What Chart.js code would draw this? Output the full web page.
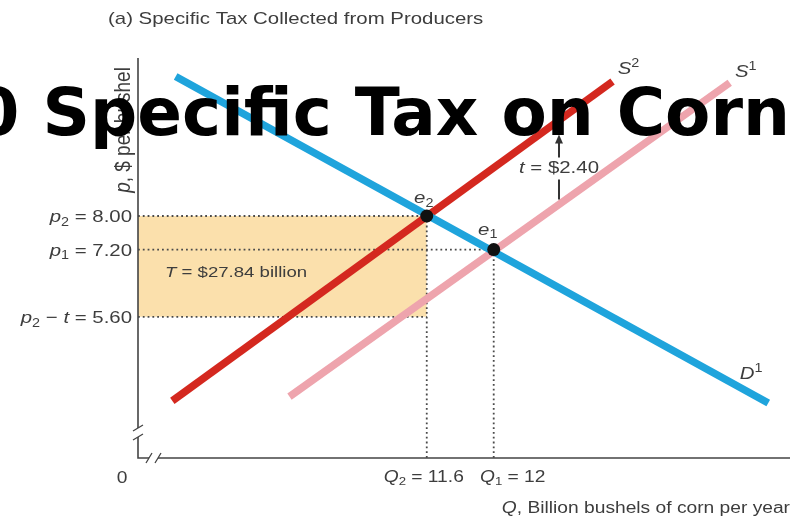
<!DOCTYPE html>
<html>
<head>
<meta charset="utf-8">
<script src="https://cdn.jsdelivr.net/npm/chart.js@4.4.1/dist/chart.umd.min.js"></script>
<style>
html,body{margin:0;padding:0;background:#fff;}
#wrap{width:804px;height:520px;position:relative;}
</style>
</head>
<body>
<div id="wrap"><canvas id="c"></canvas></div>
<script>
// values: Q in billion bushels, p in $ per bushel
const demandQ = [10.1, 13.64];
const demandP = [11.32, 3.55];
const supply1Q = [10.78, 13.41];
const supply1P = [3.7, 11.17];
const supply2Q = [10.08, 12.71];
const supply2P = [3.6, 11.2];
const eqQ = [11.6, 12];
const eqP = [8.00, 7.20];
const eqLabels = ['*e*_2', '*e*_1'];
const priceTicks = [8.00, 7.20, 5.60];
const priceTickLabels = ['*p*_2 = 8.00', '*p*_1 = 7.20', '*p*_2 − *t* = 5.60'];
const qTicks = [11.6, 12];
const qTickLabels = ['*Q*_2 = 11.6', '*Q*_1 = 12'];
const taxLabel = '*t* = $2.40';
const revenueLabel = '*T* = $27.84 billion';

// axis window (both axes are broken, so they do not start at 0)
const Q_MIN = 9.875, Q_MAX = 13.77;
const P_MIN = 2.24, P_MAX = 11.76;

const TEXT = '#3d3d3d';
const FONT = '"Liberation Sans", Arial, sans-serif';
const SX = 1.2; // the source artwork is stretched sideways

// tiny markup: *italic*, _x subscript, ^x superscript
function parseRich(s){
  const segs = []; let it = false, i = 0;
  while(i < s.length){
    const ch = s[i];
    if(ch === '*'){ it = !it; i++; continue; }
    if(ch === '_' || ch === '^'){ segs.push({t:s[i+1], it:false, mode: ch==='_' ? 'sub' : 'sup'}); i += 2; continue; }
    const last = segs[segs.length-1];
    if(last && last.mode === 'n' && last.it === it) last.t += ch;
    else segs.push({t:ch, it, mode:'n'});
    i++;
  }
  return segs;
}
function drawRich(ctx, str, x, y, size, align, rotate){
  const segs = parseRich(str);
  ctx.save();
  ctx.translate(x, y);
  ctx.scale(SX, 1);
  if(rotate) ctx.rotate(-Math.PI/2);
  ctx.fillStyle = TEXT;
  ctx.textBaseline = 'alphabetic';
  ctx.textAlign = 'left';
  const fontOf = s => (s.it ? 'italic ' : '') + (s.mode === 'n' ? size : Math.round(size*0.68)) + 'px ' + FONT;
  let w = 0;
  segs.forEach(s => { ctx.font = fontOf(s); s.w = ctx.measureText(s.t).width; w += s.w; });
  let cx = align === 'right' ? -w : align === 'center' ? -w/2 : 0;
  const base = size*0.36;
  segs.forEach(s => {
    ctx.font = fontOf(s);
    const dy = s.mode === 'sub' ? size*0.22 : s.mode === 'sup' ? -size*0.42 : 0;
    ctx.fillText(s.t, cx, base + dy);
    cx += s.w;
  });
  ctx.restore();
}
function pts(qs, ps){ return qs.map((q, i) => ({x:q, y:ps[i]})); }
function lineAt(qs, ps, q){ return ps[0] + (ps[1]-ps[0]) * (q-qs[0]) / (qs[1]-qs[0]); }

function dotted(data){
  return { data, borderColor:'#4a4a4a', borderWidth:1.8, borderDash:[1.8,3], pointRadius:0, fill:false };
}

const eqLabelOffset = [[-3,-19],[-6,-21]];
const qLabelShift = [-3, 19];

const figurePlugin = {
  id:'figure',
  afterDraw(chart){
    const {ctx, chartArea:a, scales:{x, y}} = chart;
    ctx.save();
    // axes with break marks
    ctx.strokeStyle = '#444'; ctx.lineWidth = 1.6;
    ctx.beginPath();
    ctx.moveTo(a.left, a.top); ctx.lineTo(a.left, a.bottom-30);
    ctx.moveTo(a.left, a.bottom-21); ctx.lineTo(a.left, a.bottom); ctx.lineTo(a.left+11, a.bottom);
    ctx.moveTo(a.left+20, a.bottom); ctx.lineTo(a.right, a.bottom);
    ctx.stroke();
    ctx.lineWidth = 1.3;
    ctx.beginPath();
    [-30,-21].forEach(d => { ctx.moveTo(a.left-5, a.bottom+d+3); ctx.lineTo(a.left+5, a.bottom+d-3); });
    [11,20].forEach(d => { ctx.moveTo(a.left+d-3, a.bottom+5); ctx.lineTo(a.left+d+3, a.bottom-5); });
    ctx.stroke();
    ctx.restore();

    // price ticks
    priceTicks.forEach((v, i) => drawRich(ctx, priceTickLabels[i], a.left-6, y.getPixelForValue(v), 17, 'right'));
    // quantity ticks
    qTicks.forEach((v, i) => drawRich(ctx, qTickLabels[i], x.getPixelForValue(v)+qLabelShift[i], a.bottom+18, 16, 'center'));
    drawRich(ctx, '0', a.left-16, a.bottom+19, 16, 'center');
    // axis titles
    drawRich(ctx, '*Q*, Billion bushels of corn per year', a.right, a.bottom+49, 16, 'right');
    drawRich(ctx, '*p*, $ per bushel', a.left-16, 130, 19, 'center', true);
    // panel caption
    drawRich(ctx, '(a) Specific Tax Collected from Producers', 108, 18, 17, 'left');

    // equilibrium labels
    eqQ.forEach((q, i) => drawRich(ctx, eqLabels[i], x.getPixelForValue(q)+eqLabelOffset[i][0], y.getPixelForValue(eqP[i])+eqLabelOffset[i][1], 17, 'center'));
    // curve labels
    drawRich(ctx, '*S*^2', x.getPixelForValue(supply2Q[1])+16, y.getPixelForValue(supply2P[1])-14, 17, 'center');
    drawRich(ctx, '*S*^1', x.getPixelForValue(supply1Q[1])+16, y.getPixelForValue(supply1P[1])-12, 17, 'center');
    drawRich(ctx, '*D*^1', x.getPixelForValue(demandQ[1])-17, y.getPixelForValue(demandP[1])-30, 17, 'center');

    // tax revenue label inside the box
    drawRich(ctx, revenueLabel, a.left+27, y.getPixelForValue(eqP[1])+22, 15.5, 'left');

    // tax wedge between S1 and S2
    const qt = 12.39;
    const xt = x.getPixelForValue(qt);
    const yS2 = y.getPixelForValue(lineAt(supply2Q, supply2P, qt));
    const yS1 = y.getPixelForValue(lineAt(supply1Q, supply1P, qt));
    const yt = yS1 - 38;
    drawRich(ctx, taxLabel, xt, yt, 17, 'center');
    ctx.save();
    ctx.strokeStyle = '#333'; ctx.fillStyle = '#333'; ctx.lineWidth = 2;
    ctx.beginPath();
    ctx.moveTo(xt, yt-9); ctx.lineTo(xt, yS2+20);
    ctx.moveTo(xt, yt+13); ctx.lineTo(xt, yS1-5);
    ctx.stroke();
    ctx.beginPath();
    ctx.moveTo(xt, yS2+14); ctx.lineTo(xt-4, yS2+23); ctx.lineTo(xt+4, yS2+23); ctx.closePath();
    ctx.fill();
    ctx.restore();

    // big overlay title (runs off the left edge, as in the reference)
    ctx.save();
    ctx.font = 'bold 66px "DejaVu Sans", Verdana, sans-serif';
    ctx.fillStyle = '#000';
    ctx.textAlign = 'right';
    ctx.textBaseline = 'alphabetic';
    ctx.fillText('$2.40 Specific Tax on Corn', 790, 135);
    ctx.restore();
  }
};

new Chart(document.getElementById('c'), {
  type:'line',
  data:{
    datasets:[
      { data: pts(eqQ, eqP), showLine:false, pointRadius:6.5, pointBackgroundColor:'#111', pointBorderColor:'#111', pointBorderWidth:0 },
      { data: pts(demandQ, demandP), borderColor:'#1fa4dc', borderWidth:7.5, pointRadius:0 },
      { data: pts(supply2Q, supply2P), borderColor:'#d4281f', borderWidth:7.5, pointRadius:0 },
      { data: pts(supply1Q, supply1P), borderColor:'#eea4ad', borderWidth:7.5, pointRadius:0 },
      dotted([{x:Q_MIN, y:eqP[0]}, {x:eqQ[0], y:eqP[0]}]),
      dotted([{x:Q_MIN, y:eqP[1]}, {x:eqQ[1], y:eqP[1]}]),
      dotted([{x:Q_MIN, y:priceTicks[2]}, {x:eqQ[0], y:priceTicks[2]}]),
      dotted([{x:eqQ[0], y:eqP[0]}, {x:eqQ[0], y:P_MIN}]),
      dotted([{x:eqQ[1], y:eqP[1]}, {x:eqQ[1], y:P_MIN}]),
      { data:[{x:Q_MIN, y:eqP[0]}, {x:eqQ[0], y:eqP[0]}], borderWidth:0, pointRadius:0, fill:{value: priceTicks[2]}, backgroundColor:'#fbe0ac' }
    ]
  },
  options:{
    responsive:true, maintainAspectRatio:false, animation:false,
    layout:{ padding:{ left:138, right:14, top:58, bottom:62 } },
    scales:{
      x:{ type:'linear', min:Q_MIN, max:Q_MAX, display:false },
      y:{ type:'linear', min:P_MIN, max:P_MAX, display:false }
    },
    plugins:{ legend:{display:false}, tooltip:{enabled:false} }
  },
  plugins:[figurePlugin]
});
</script>
</body>
</html>
